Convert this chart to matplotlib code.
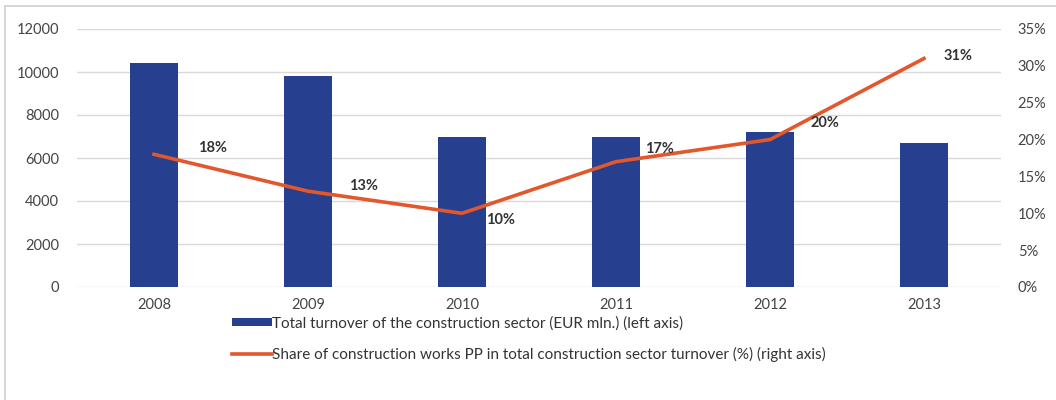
import matplotlib
matplotlib.use("Agg")
import matplotlib.pyplot as plt
from matplotlib.lines import Line2D

years = ["2008", "2009", "2010", "2011", "2012", "2013"]
turnover = [10400, 9800, 7000, 7000, 7200, 6700]
share = [18, 13, 10, 17, 20, 31]
left_ticks = [0, 2000, 4000, 6000, 8000, 10000, 12000]
right_ticks = [0, 5, 10, 15, 20, 25, 30, 35]
bar_label = "Total turnover of the construction sector (EUR mln.) (left axis)"
line_label = "Share of construction works PP in total construction sector turnover (%) (right axis)"

plt.rcParams["font.family"] = ["Lato", "DejaVu Sans"]

bar_color = "#263F8E"
line_color = "#E2572B"
tick_color = "#444444"
grid_color = "#D9D9D9"

fig = plt.figure(figsize=(10.56, 4.0), dpi=100)
# thin frame along the top and left edges
fig.add_artist(Line2D([5 / 1056, 1.0], [1 - 6 / 400] * 2, transform=fig.transFigure,
                      color="#D0D0D0", linewidth=1.2))
fig.add_artist(Line2D([5 / 1056] * 2, [0.0, 1 - 6 / 400], transform=fig.transFigure,
                      color="#D0D0D0", linewidth=1.2))

ax = fig.add_axes([0.0729, 0.2825, 0.875, 0.645])
x = list(range(len(years)))
bars = ax.bar(x, turnover, width=0.31, color=bar_color, zorder=2, label=bar_label)
ax.set_xlim(-0.5, len(years) - 0.5)
ax.set_ylim(0, 12000)
ax.set_yticks(left_ticks)
ax.set_yticklabels([str(v) for v in left_ticks])
ax.set_xticks(x)
ax.set_xticklabels(years)
ax.grid(axis="y", color=grid_color, linewidth=1, zorder=0)
ax.set_axisbelow(True)
for s in ax.spines.values():
    s.set_visible(False)
ax.tick_params(length=0, labelsize=10.5, colors=tick_color, pad=8)
ax.tick_params(axis="y", pad=13)

ax2 = ax.twinx()
ln, = ax2.plot(x, share, color=line_color, linewidth=2.6, zorder=3, label=line_label)
ax2.set_ylim(0, 35)
ax2.set_yticks(right_ticks)
ax2.set_yticklabels([f"{v}%" for v in right_ticks])
for s in ax2.spines.values():
    s.set_visible(False)
ax2.tick_params(length=0, labelsize=10.5, colors=tick_color, pad=12)

offsets = [(0.38, 0.9), (0.36, 0.7), (0.25, -0.9), (0.28, 1.7), (0.36, 2.2), (0.22, 0.3)]
for xi, v, (dx, dy) in zip(x, share, offsets):
    ax2.text(xi + dx, v + dy, f"{v}%", fontsize=10.5, fontweight="bold",
             color="#333333", ha="center", va="center", zorder=4)

fig.legend([bars, ln], [bar_label, line_label], loc="upper left",
           bbox_to_anchor=(0.214, 0.225), frameon=False, fontsize=11,
           labelcolor="#333333", handlelength=2.6, handleheight=0.5,
           handletextpad=0.0, labelspacing=1.05, borderaxespad=0)

fig.savefig("out.png", dpi=100)
